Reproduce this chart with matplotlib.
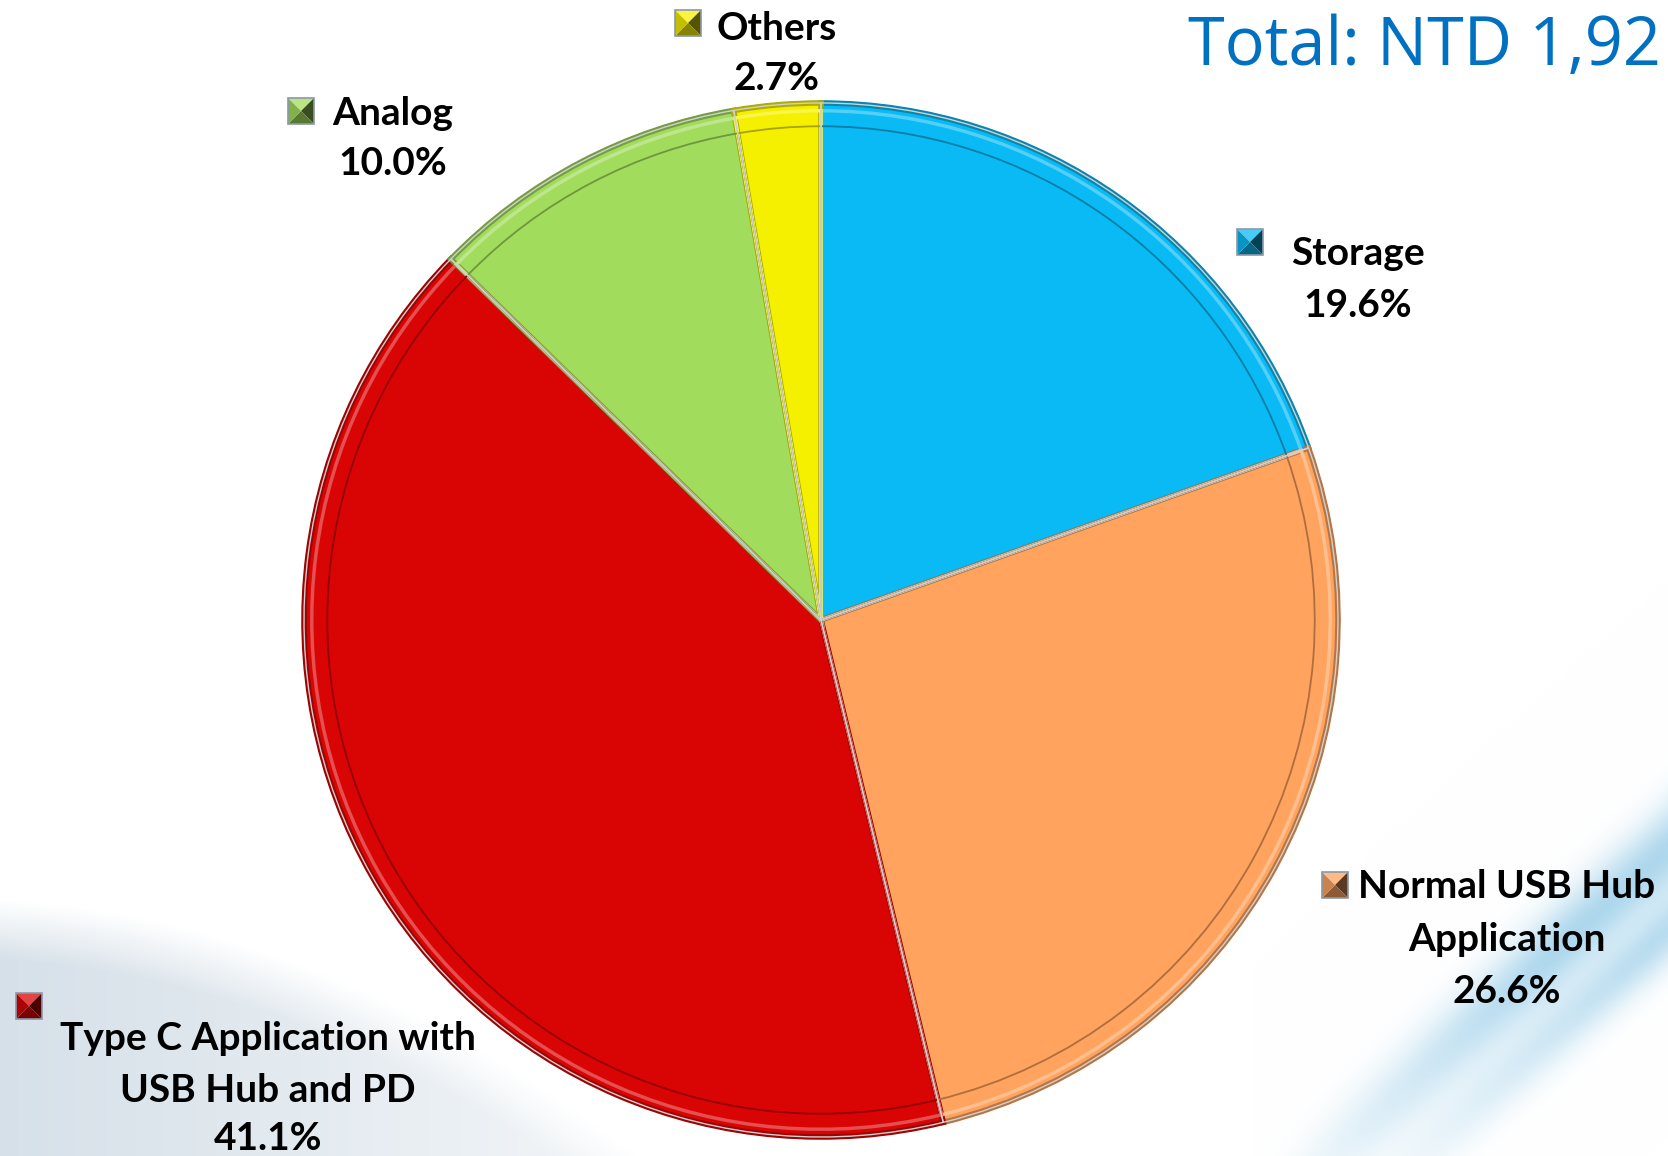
import numpy as np
import matplotlib.pyplot as plt
import matplotlib.colors as mcolors
from matplotlib.patches import Polygon

# datos del grafico
categorias = ['Storage', 'Normal USB Hub\nApplication', 'Type C Application with\nUSB Hub and PD', 'Analog', 'Others']
porcentajes = [19.6, 26.6, 41.1, 10.0, 2.7]
colores = ['#0ABAF4', '#FFA35E', '#D90404', '#A2DC5C', '#F5F000']
titulo = 'Total: NTD 1,92'

W, H = 1668, 1156
fig = plt.figure(figsize=(W / 100, H / 100), dpi=100)

# fondo con curvas suaves en las esquinas inferiores
yy, xx = np.mgrid[0:H, 0:W]
img = np.ones((H, W, 3))
curva_izq = 900 + 0.00055 * xx ** 2 + 0.05 * xx
m_izq = np.clip((yy - curva_izq) / 60, 0, 1) * np.clip(1 - xx / 900, 0, 1)
gris = np.array([0.80, 0.85, 0.89])
img = img * (1 - m_izq[..., None] * 0.8) + gris * m_izq[..., None] * 0.8
azul = np.array([0.55, 0.78, 0.90])
curva_der = 1180 - 0.9 * (xx - 1300)
m_der = np.exp(-((yy - curva_der) / 45) ** 2) * np.clip((xx - 1250) / 300, 0, 1)
img = img * (1 - m_der[..., None] * 0.7) + azul * m_der[..., None] * 0.7
curva_der2 = 1260 - 0.9 * (xx - 1300)
m_der2 = np.exp(-((yy - curva_der2) / 35) ** 2) * np.clip((xx - 1350) / 300, 0, 1)
img = img * (1 - m_der2[..., None] * 0.6) + azul * m_der2[..., None] * 0.6

bg = fig.add_axes([0, 0, 1, 1])
bg.imshow(img, extent=(0, W, 0, H), aspect='auto', zorder=0)
bg.axis('off')

ax = fig.add_axes([0, 0, 1, 1])
ax.patch.set_alpha(0)

def tono(c, f):
    r, g, b = mcolors.to_rgb(c)
    if f <= 1:
        return (r * f, g * f, b * f)
    k = f - 1
    return (r + (1 - r) * k, g + (1 - g) * k, b + (1 - b) * k)

centro = (821, H - 620)
radio = 517

# sombra exterior
ax.pie([1], colors=['none'], center=centro, radius=radio,
       wedgeprops=dict(linewidth=3, edgecolor='#3a3a3a'))

wedges, _ = ax.pie(porcentajes, colors=colores, startangle=90, counterclock=False,
                   center=centro, radius=radio,
                   wedgeprops=dict(linewidth=4, edgecolor='#E8E8E8'))
for w, c in zip(wedges, colores):
    w.set_edgecolor(tono(c, 0.72))

# borde claro (bisel)
claros, _ = ax.pie(porcentajes, startangle=90, counterclock=False,
                   center=centro, radius=radio * 0.985,
                   wedgeprops=dict(fill=False, linewidth=2.5))
for w, c in zip(claros, colores):
    w.set_edgecolor(tono(c, 1.3))

# contorno interior para imitar el bisel
interiores, _ = ax.pie(porcentajes, startangle=90, counterclock=False,
                       center=centro, radius=radio * 0.955,
                       wedgeprops=dict(fill=False, linewidth=1.3))
for w, c in zip(interiores, colores):
    w.set_edgecolor(tono(c, 0.68))

# separaciones claras
ax.pie(porcentajes, startangle=90, counterclock=False,
       center=centro, radius=radio,
       wedgeprops=dict(fill=False, linewidth=1.0, edgecolor='#D0D0D0'))

ax.set_xlim(0, W)
ax.set_ylim(0, H)
ax.set_aspect('auto')
ax.axis('off')

def cuadro(cx, cy, c, s=13):
    # cuadro en forma de piramide (4 triangulos)
    y = H - cy
    p = [(cx - s, y + s), (cx + s, y + s), (cx + s, y - s), (cx - s, y - s)]
    m = (cx, y)
    caras = [(p[0], p[1], 1.25), (p[1], p[2], 0.35), (p[2], p[3], 0.55), (p[3], p[0], 0.8)]
    for a, b, f in caras:
        ax.add_patch(Polygon([a, b, m], closed=True, facecolor=tono(c, f),
                             edgecolor='none', zorder=5))
    ax.add_patch(Polygon(p, closed=True, fill=False, edgecolor='#8a9aa8',
                         linewidth=1.2, zorder=6))

# etiquetas (posiciones en pixeles de la imagen)
centros_x = [1358, 1507, 268, 393, 777]
lineas_y = [[265, 317], [898, 951, 1003], [1050, 1102, 1150], [125, 175], [40, 90]]
pos_cuadro = [(1250, 242), (1335, 885), (29, 1006), (301, 111), (688, 23)]
for cat, val, c, tx, ys, (qx, qy) in zip(categorias, porcentajes, colores, centros_x, lineas_y, pos_cuadro):
    lineas = cat.split('\n') + [f'{val:.1f}%']
    for linea, ty in zip(lineas, ys):
        ax.text(tx, H - ty, linea, ha='center', va='baseline',
                fontsize=28, fontweight='bold', family='Lato', color='black')
    cuadro(qx, qy, c)

ax.text(1188, H - 65, titulo, ha='left', va='baseline', fontsize=48,
        family='Open Sans', color='#0070C0')

fig.savefig('out.png', dpi=100)
